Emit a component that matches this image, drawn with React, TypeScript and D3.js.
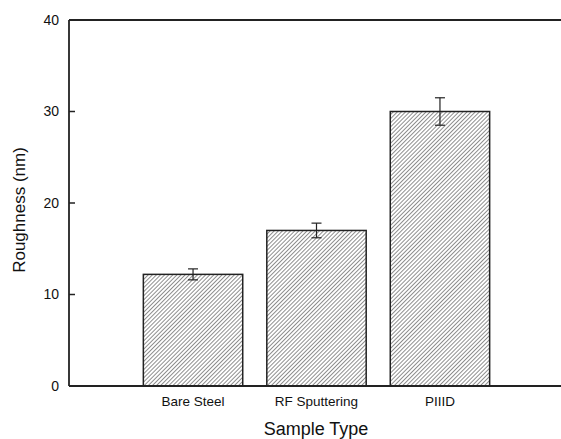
import React, { useEffect, useRef } from 'react';
import * as d3 from 'd3';

const categories = ['Bare Steel', 'RF Sputtering', 'PIIID'];
const roughness = [12.2, 17.0, 30.0];
const errors = [0.6, 0.8, 1.5];
const yTicks = [0, 10, 20, 30, 40];

const App = () => {
  const svgRef = useRef<SVGSVGElement>(null);

  useEffect(() => {
    const svg = d3.select(svgRef.current);
    svg.selectAll('*').remove();

    const width = 561;
    const height = 439;
    const margin = { top: 20, right: 0, bottom: 53, left: 69 };

    svg.attr('width', width).attr('height', height);

    // diagonal hatch, "/" direction
    const defs = svg.append('defs');
    defs.append('pattern')
      .attr('id', 'hatch')
      .attr('patternUnits', 'userSpaceOnUse')
      .attr('width', 2.9)
      .attr('height', 4)
      .attr('patternTransform', 'rotate(45)')
      .append('line')
      .attr('x1', 0).attr('y1', 0)
      .attr('x2', 0).attr('y2', 4)
      .attr('stroke', '#333')
      .attr('stroke-width', 1.1);

    const x = d3.scaleBand()
      .domain(categories)
      .range([131, 502])
      .paddingInner(0.195)
      .paddingOuter(0.1);

    const y = d3.scaleLinear()
      .domain([0, 40])
      .range([height - margin.bottom, margin.top]);

    const g = svg.append('g').attr('font-family', 'Liberation Sans, Arial, sans-serif');

    // bars
    g.selectAll('rect.bar')
      .data(categories)
      .enter()
      .append('rect')
      .attr('class', 'bar')
      .attr('x', d => x(d)!)
      .attr('width', x.bandwidth())
      .attr('y', (d, i) => y(roughness[i]))
      .attr('height', (d, i) => y(0) - y(roughness[i]))
      .attr('fill', 'url(#hatch)')
      .attr('stroke', '#222')
      .attr('stroke-width', 1.5);

    // error bars
    const capW = 5;
    categories.forEach((c, i) => {
      const cx = x(c)! + x.bandwidth() / 2;
      const hi = y(roughness[i] + errors[i]);
      const lo = y(roughness[i] - errors[i]);
      const eg = g.append('g').attr('stroke', '#222').attr('stroke-width', 1.2);
      eg.append('line').attr('x1', cx).attr('x2', cx).attr('y1', hi).attr('y2', lo);
      eg.append('line').attr('x1', cx - capW).attr('x2', cx + capW).attr('y1', hi).attr('y2', hi);
      eg.append('line').attr('x1', cx - capW).attr('x2', cx + capW).attr('y1', lo).attr('y2', lo);
    });

    // axes frame (left, top, bottom)
    const left = margin.left;
    g.append('line')
      .attr('x1', left).attr('x2', left)
      .attr('y1', y(40)).attr('y2', y(0))
      .attr('stroke', '#222').attr('stroke-width', 1.8);
    g.append('line')
      .attr('x1', left).attr('x2', width)
      .attr('y1', y(40)).attr('y2', y(40))
      .attr('stroke', '#222').attr('stroke-width', 1.8);
    g.append('line')
      .attr('x1', left).attr('x2', width)
      .attr('y1', y(0)).attr('y2', y(0))
      .attr('stroke', '#222').attr('stroke-width', 1.8);

    // y ticks (inward, only inner ones)
    g.selectAll('line.tick')
      .data(yTicks.filter(t => t > 0 && t < 40))
      .enter()
      .append('line')
      .attr('x1', left).attr('x2', left + 6)
      .attr('y1', d => y(d)).attr('y2', d => y(d))
      .attr('stroke', '#222').attr('stroke-width', 1.5);

    g.selectAll('text.ytick')
      .data(yTicks)
      .enter()
      .append('text')
      .attr('x', left - 10)
      .attr('y', d => y(d))
      .attr('dy', '0.35em')
      .attr('text-anchor', 'end')
      .attr('font-size', 14)
      .attr('fill', '#111')
      .text(d => d);

    g.selectAll('text.xtick')
      .data(categories)
      .enter()
      .append('text')
      .attr('x', d => x(d)! + x.bandwidth() / 2)
      .attr('y', y(0) + 20)
      .attr('text-anchor', 'middle')
      .attr('font-size', 13.5)
      .attr('fill', '#111')
      .text(d => d);

    g.append('text')
      .attr('x', 316)
      .attr('y', 435)
      .attr('text-anchor', 'middle')
      .attr('font-size', 18)
      .attr('fill', '#111')
      .text('Sample Type');

    g.append('text')
      .attr('transform', `translate(25,210) rotate(-90)`)
      .attr('text-anchor', 'middle')
      .attr('font-size', 17)
      .attr('fill', '#111')
      .text('Roughness (nm)');
  }, []);

  return (
    <div style={{ position: 'fixed', left: 0, top: 0, width: 561, height: 439, background: '#fff' }}>
      <svg ref={svgRef}></svg>
    </div>
  );
};

export default App;
